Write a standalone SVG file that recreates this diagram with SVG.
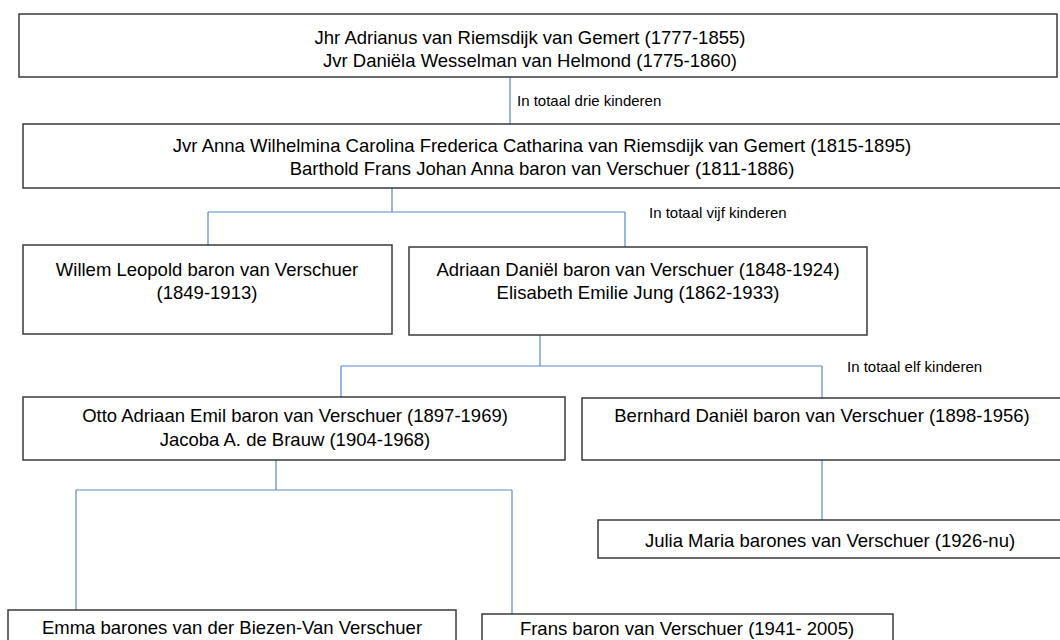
<svg xmlns="http://www.w3.org/2000/svg" width="1060" height="640" viewBox="0 0 1060 640">
<style>
.box{fill:#ffffff;stroke:#3a3a3a;stroke-width:1.5}
.t{font-family:"Liberation Sans",Arial,sans-serif;font-size:18.5px;fill:#000;text-anchor:middle}
.lbl{font-family:"Liberation Sans",Arial,sans-serif;font-size:15px;fill:#000}
.c{fill:none;stroke:#5b87c8;stroke-width:1.2}
</style>
<rect width="1060" height="640" fill="#ffffff"/>
<g id="connectors">
<path class="c" d="M510 77V124"/>
<path class="c" d="M392 188V212M208 212H625M208 212V245M625 212V247"/>
<path class="c" d="M540 335V366M341 366H822M341 366V397M822 366V398"/>
<path class="c" d="M276 460V490M76 490H512M76 490V610M512 490V615"/>
<path class="c" d="M822 460V520"/>
<text class="lbl" x="517" y="106">In totaal drie kinderen</text>
<text class="lbl" x="649" y="218">In totaal vijf kinderen</text>
<text class="lbl" x="847" y="372">In totaal elf kinderen</text>
</g>
<g id="n1">
<rect class="box" x="19" y="14" width="1038" height="63"/>
<text class="t" x="530" y="44">Jhr Adrianus van Riemsdijk van Gemert (1777-1855)</text>
<text class="t" x="530" y="67">Jvr Daniëla Wesselman van Helmond (1775-1860)</text>
</g>
<g id="n2">
<rect class="box" x="23" y="124" width="1045" height="64"/>
<text class="t" x="542" y="152">Jvr Anna Wilhelmina Carolina Frederica Catharina van Riemsdijk van Gemert (1815-1895)</text>
<text class="t" x="542" y="175">Barthold Frans Johan Anna baron van Verschuer (1811-1886)</text>
</g>
<g id="n3">
<rect class="box" x="23" y="245" width="369" height="89"/>
<text class="t" x="207" y="276">Willem Leopold baron van Verschuer</text>
<text class="t" x="207" y="299">(1849-1913)</text>
</g>
<g id="n4">
<rect class="box" x="409" y="247" width="458" height="88"/>
<text class="t" x="638" y="276">Adriaan Daniël baron van Verschuer (1848-1924)</text>
<text class="t" x="638" y="299">Elisabeth Emilie Jung (1862-1933)</text>
</g>
<g id="n5">
<rect class="box" x="23" y="397" width="542" height="63"/>
<text class="t" x="295" y="422">Otto Adriaan Emil baron van Verschuer (1897-1969)</text>
<text class="t" x="295" y="446">Jacoba A. de Brauw (1904-1968)</text>
</g>
<g id="n6">
<rect class="box" x="582" y="398" width="480" height="62"/>
<text class="t" x="822" y="422">Bernhard Daniël baron van Verschuer (1898-1956)</text>
</g>
<g id="n7">
<rect class="box" x="598" y="520" width="470" height="38"/>
<text class="t" x="830" y="547">Julia Maria barones van Verschuer (1926-nu)</text>
</g>
<g id="n8">
<rect class="box" x="8" y="610" width="448" height="40"/>
<text class="t" x="232" y="634">Emma barones van der Biezen-Van Verschuer</text>
</g>
<g id="n9">
<rect class="box" x="482" y="614" width="411" height="40"/>
<text class="t" x="687" y="635">Frans baron van Verschuer (1941- 2005)</text>
</g>
</svg>
